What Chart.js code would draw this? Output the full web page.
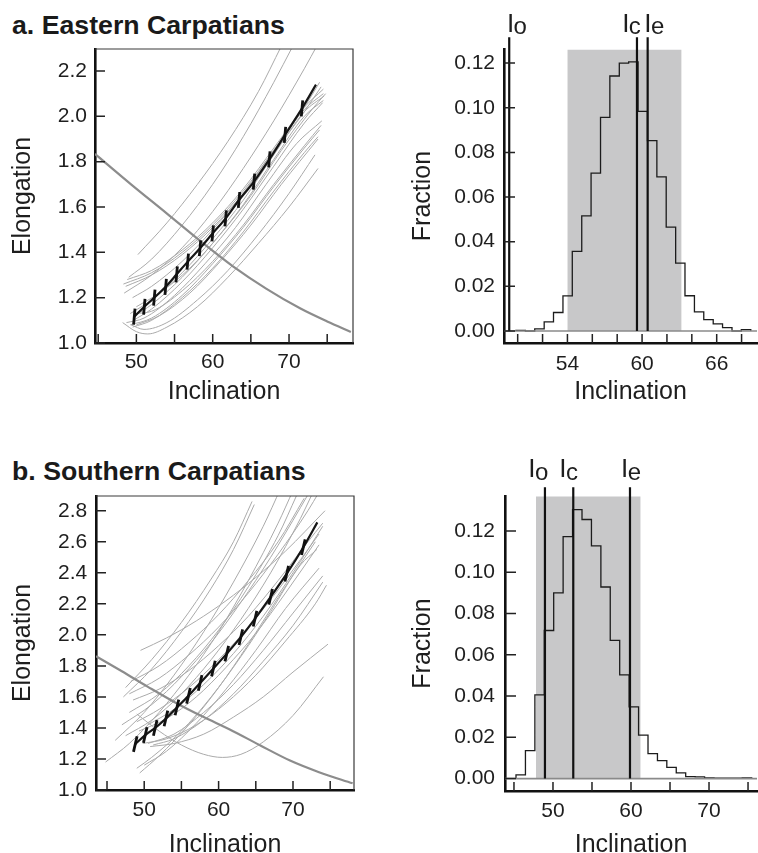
<!DOCTYPE html>
<html>
<head>
<meta charset="utf-8">
<title>E/I correction - Carpatians</title>
<script src="https://cdn.jsdelivr.net/npm/chart.js@4.4.1/dist/chart.umd.min.js"></script>
<style>
  html, body { margin: 0; padding: 0; background: #fff; overflow: hidden; }
  #page { position: relative; width: 758px; height: 853px; overflow: hidden;
          font-family: "Liberation Sans", Arial, Helvetica, sans-serif; }
  #page canvas { position: absolute; }
  .panel-title { position: absolute; left: 12px; font-weight: bold; font-size: 26.7px;
                 line-height: 1; color: #1a1a1a; white-space: nowrap; }
</style>
</head>
<body>
<div id="page">
  <div class="panel-title" style="top:12.4px">a. Eastern Carpatians</div>
  <div class="panel-title" style="top:458.4px">b. Southern Carpatians</div>
  <canvas id="eiA"   width="379" height="420" style="left:0;top:0"></canvas>
  <canvas id="histA" width="378" height="420" style="left:380px;top:0"></canvas>
  <canvas id="eiB"   width="379" height="445" style="left:0;top:420px"></canvas>
  <canvas id="histB" width="378" height="445" style="left:380px;top:420px"></canvas>
</div>

<script>
// ==========================================
// DATA
// ==========================================

// ---- a. Eastern Carpatians : elongation / inclination ----
const incTicksA   = [45, 50, 55, 60, 65, 70, 75];
const incLabelsA  = [50, 60, 70];
const elongTicksA = [1.0, 1.2, 1.4, 1.6, 1.8, 2.0, 2.2];

// mean E/I path, an error tick sits on every point except the last one
const eiPathA = [
  [49.73, 1.116], [51.04, 1.160], [52.35, 1.200], [53.84, 1.248], [55.28, 1.303],
  [56.73, 1.359], [58.34, 1.418], [60.00, 1.484], [61.70, 1.550], [63.45, 1.631],
  [65.41, 1.712], [67.42, 1.810], [69.47, 1.918], [71.70, 2.035], [73.53, 2.140]
];

// TK03.GAD model curve
const tk03A = [
  [44.58, 1.834], [49.3, 1.700], [53.97, 1.572], [58.3, 1.452], [62.7, 1.337],
  [67.0, 1.240], [71.44, 1.153], [75.0, 1.095], [78.1, 1.049]
];

// bootstrapped E/I paths
const bootA = [
  [[50.2, 1.39], [54, 1.53], [58, 1.70], [62, 1.89], [66, 2.11], [69, 2.31]],
  [[49.0, 1.29], [52, 1.37], [56, 1.52], [60, 1.70], [64, 1.91], [68, 2.15], [70.5, 2.31]],
  [[48.4, 1.22], [52, 1.30], [56, 1.42], [60, 1.58], [64, 1.77], [68, 1.98], [72, 2.21], [73.8, 2.32]],
  [[48.3, 1.26], [52, 1.31], [56, 1.40], [60, 1.52], [64, 1.67], [68, 1.85], [72, 2.04], [74.0, 2.15]],
  [[48.8, 1.28], [52, 1.32], [56, 1.41], [60, 1.53], [64, 1.68], [68, 1.86], [72, 2.04], [74.5, 2.12]],
  [[49.5, 1.20], [52, 1.25], [56, 1.36], [60, 1.50], [64, 1.66], [68, 1.85], [72, 2.03], [74.5, 2.10]],
  [[49.2, 1.13], [52, 1.19], [56, 1.31], [60, 1.46], [64, 1.63], [68, 1.83], [72, 2.02], [74.6, 2.09]],
  [[49.8, 1.12], [52, 1.17], [56, 1.29], [60, 1.44], [64, 1.61], [68, 1.81], [72, 2.00], [74.5, 2.07]],
  [[49.6, 1.10], [52, 1.15], [56, 1.27], [60, 1.42], [64, 1.59], [68, 1.78], [72, 1.97], [74.4, 2.06]],
  [[48.7, 1.09], [51, 1.11], [55, 1.21], [59, 1.35], [63, 1.51], [67, 1.70], [71, 1.88], [74.3, 1.98]],
  [[49.2, 1.08], [52, 1.11], [56, 1.21], [60, 1.35], [64, 1.51], [68, 1.69], [72, 1.86], [74.0, 1.94]],
  [[49.5, 1.07], [52, 1.10], [56, 1.20], [60, 1.33], [64, 1.49], [68, 1.67], [72, 1.84], [73.8, 1.91]],
  [[50.0, 1.08], [53, 1.12], [57, 1.22], [61, 1.36], [65, 1.52], [69, 1.70], [73.8, 1.90]],
  [[48.2, 1.09], [50, 1.05], [51.5, 1.04], [54, 1.07], [58, 1.16], [62, 1.29], [66, 1.44], [70, 1.60], [73.8, 1.77]],
  [[49.3, 1.08], [51, 1.06], [54, 1.09], [58, 1.19], [62, 1.32], [66, 1.48], [70, 1.66], [73.4, 1.83]],
  [[49.8, 1.13], [52, 1.14], [56, 1.23], [60, 1.36], [64, 1.52], [68, 1.70], [72, 1.87], [74.2, 1.96]],
  [[48.6, 1.25], [52, 1.30], [56, 1.39], [60, 1.51], [64, 1.66], [68, 1.84], [72, 2.02], [74.2, 2.13]],
  [[50.0, 1.16], [53, 1.22], [57, 1.33], [61, 1.48], [65, 1.65], [69, 1.85], [73, 2.03], [74.8, 2.10]]
];

// ---- a. histogram of corrected inclinations ----
const histTicksA  = [50, 52, 54, 56, 58, 60, 62, 64, 66, 68];
const histLabelsA = [54, 60, 66];
const fracTicks   = [0, 0.02, 0.04, 0.06, 0.08, 0.10, 0.12];
const histEdgesA  = [
  49.86, 50.62, 51.37, 52.13, 52.88, 53.64, 54.39, 55.15, 55.90, 56.66, 57.41, 58.17, 58.92,
  59.68, 60.43, 61.19, 61.94, 62.70, 63.45, 64.21, 64.96, 65.72, 66.47, 67.23, 67.98, 68.74
];
const histFracA = [
  0.0003, 0.0000, 0.0010, 0.0041, 0.0083, 0.0157, 0.0357, 0.0516, 0.0707, 0.0957, 0.1142, 0.1200,
  0.1205, 0.0984, 0.0853, 0.0690, 0.0465, 0.0304, 0.0158, 0.0086, 0.0051, 0.0032, 0.0015, 0.0000, 0.0006
];
const bandA  = [53.99, 63.18];           // 95% bootstrap interval
const marksA = [49.32, 59.59, 60.45];    // I_o, I_c, I_e
const markNames = ['o', 'c', 'e'];

// ---- b. Southern Carpatians : elongation / inclination ----
const incTicksB   = [45, 50, 55, 60, 65, 70, 75];
const incLabelsB  = [50, 60, 70];
const elongTicksB = [1.0, 1.2, 1.4, 1.6, 1.8, 2.0, 2.2, 2.4, 2.6, 2.8];

const eiPathB = [
  [48.80, 1.296], [50.14, 1.354], [51.48, 1.400], [52.92, 1.461], [54.40, 1.532],
  [55.95, 1.607], [57.52, 1.690], [59.30, 1.783], [61.10, 1.879], [62.99, 1.985],
  [64.90, 2.104], [67.00, 2.245], [69.16, 2.394], [71.39, 2.565], [73.27, 2.725]
];

const tk03B = [
  [43.52, 1.862], [47.0, 1.765], [50.5, 1.665], [54.4, 1.558], [58.0, 1.470],
  [61.5, 1.390], [65.5, 1.290], [69.6, 1.190], [73.5, 1.115], [78.02, 1.043]
];

const bootB = [
  [[49.5, 1.90], [53, 1.98], [57, 2.09], [61, 2.22], [65, 2.37], [69, 2.54], [74.3, 2.80]],
  [[47.5, 1.66], [51, 1.84], [55, 2.08], [59, 2.36], [62, 2.60], [64.5, 2.86]],
  [[47.2, 1.60], [51, 1.78], [55, 2.02], [59, 2.30], [62, 2.55], [64.8, 2.84]],
  [[46.1, 1.32], [50, 1.50], [54, 1.74], [58, 2.02], [62, 2.34], [66, 2.70], [68.4, 2.95]],
  [[44.8, 1.18], [48, 1.30], [52, 1.50], [56, 1.74], [60, 2.02], [64, 2.35], [68, 2.72], [70, 2.93]],
  [[48.2, 1.70], [52, 1.80], [56, 1.95], [60, 2.13], [64, 2.35], [68, 2.60], [71.5, 2.88]],
  [[48.0, 1.62], [52, 1.72], [56, 1.87], [60, 2.05], [64, 2.27], [68, 2.52], [72, 2.80], [73.5, 2.92]],
  [[47.0, 1.42], [51, 1.55], [55, 1.73], [59, 1.95], [63, 2.21], [67, 2.50], [71, 2.82], [72.2, 2.92]],
  [[48.5, 1.58], [52, 1.65], [56, 1.77], [60, 1.93], [64, 2.12], [68, 2.35], [72, 2.60], [74, 2.72]],
  [[49.0, 1.44], [52, 1.52], [56, 1.66], [60, 1.84], [64, 2.05], [68, 2.29], [72, 2.55], [73.5, 2.65]],
  [[49.3, 1.38], [53, 1.46], [57, 1.60], [61, 1.79], [65, 2.01], [69, 2.27], [73.5, 2.58]],
  [[49.4, 1.11], [52, 1.22], [56, 1.42], [60, 1.66], [64, 1.94], [68, 2.24], [73, 2.60]],
  [[49.0, 1.14], [51, 1.21], [55, 1.38], [59, 1.60], [63, 1.86], [67, 2.15], [71, 2.45], [73.2, 2.55]],
  [[50.0, 1.16], [53, 1.25], [57, 1.43], [61, 1.65], [65, 1.90], [69, 2.17], [73.5, 2.43]],
  [[50.5, 1.30], [54, 1.36], [58, 1.50], [62, 1.68], [66, 1.90], [70, 2.14], [74, 2.38]],
  [[51.2, 1.29], [54, 1.33], [58, 1.45], [62, 1.62], [66, 1.83], [70, 2.06], [74, 2.34]],
  [[49.0, 1.49], [52, 1.38], [55, 1.29], [58, 1.23], [60.5, 1.21], [63, 1.23], [66, 1.31], [70, 1.48], [74.1, 1.73]],
  [[50.8, 1.28], [54, 1.30], [58, 1.36], [62, 1.47], [66, 1.60], [70, 1.76], [74.7, 1.94]],
  [[49.8, 1.30], [53, 1.33], [57, 1.42], [61, 1.56], [65, 1.74], [69, 1.96], [73, 2.20], [74.5, 2.32]],
  [[48.0, 1.50], [52, 1.62], [56, 1.80], [60, 2.03], [64, 2.31], [68, 2.64], [70.5, 2.90]],
  [[47.5, 1.35], [51, 1.45], [55, 1.62], [59, 1.84], [63, 2.10], [67, 2.40], [71, 2.75], [72.5, 2.90]],
  [[50.5, 1.42], [54, 1.52], [58, 1.68], [62, 1.88], [66, 2.12], [70, 2.40], [74, 2.70]]
];

// ---- b. histogram ----
const histTicksB  = [45, 50, 55, 60, 65, 70, 75];
const histLabelsB = [50, 60, 70];
const histEdgesB  = [
  45.26, 46.47, 47.68, 48.89, 50.09, 51.30, 52.51, 53.72, 54.93, 56.14, 57.34, 58.55, 59.76,
  60.97, 62.18, 63.39, 64.59, 65.80, 67.01, 68.22, 69.43, 70.64, 71.84, 73.05, 74.26, 75.47
];
const histFracB = [
  0.0018, 0.0136, 0.0406, 0.0718, 0.0900, 0.1173, 0.1304, 0.1256, 0.1128, 0.0929, 0.0670, 0.0503,
  0.0348, 0.0211, 0.0121, 0.0087, 0.0055, 0.0028, 0.0010, 0.0008, 0.0004, 0.0002, 0.0002, 0.0002, 0.0003
];
const bandB  = [47.82, 61.24];
const marksB = [48.97, 52.60, 59.87];

// ==========================================
// RENDERING
// ==========================================
const FONT = '"Liberation Sans", Arial, Helvetica, sans-serif';
const INK = '#1e1e1e';
Chart.defaults.font.family = FONT;
Chart.defaults.color = INK;

const xy = pts => pts.map(([x, y]) => ({ x, y }));

// inward tick marks, thin top/right frame and the I_o / I_c / I_e labels
function decor(cfg) {
  return {
    id: 'decor',
    afterDraw(chart) {
      const { ctx, chartArea: a, scales: { x, y } } = chart;
      ctx.save();
      ctx.strokeStyle = '#222';
      ctx.lineWidth = 1.5;
      ctx.beginPath();
      x.ticks.forEach(t => {
        const px = x.getPixelForValue(t.value);
        ctx.moveTo(px, a.bottom);
        ctx.lineTo(px, a.bottom - cfg.xTick);
      });
      y.ticks.forEach(t => {
        const py = y.getPixelForValue(t.value);
        ctx.moveTo(a.left, py);
        ctx.lineTo(a.left + cfg.yTick, py);
      });
      ctx.stroke();

      if (cfg.frame) {
        ctx.strokeStyle = '#3a3a3a';
        ctx.lineWidth = 1.2;
        ctx.beginPath();
        ctx.moveTo(a.left, a.top);
        ctx.lineTo(a.right, a.top);
        ctx.lineTo(a.right, a.bottom);
        ctx.stroke();
      }

      if (cfg.marks) {
        const base = y.getPixelForValue(cfg.markTop) - cfg.labelGap;
        ctx.fillStyle = INK;
        ctx.textBaseline = 'alphabetic';
        cfg.marks.forEach((m, i) => {
          const cx = x.getPixelForValue(m) + cfg.labelDx[i];
          ctx.font = `26px ${FONT}`;
          ctx.textAlign = 'center';
          ctx.fillText('I', cx, base);
          ctx.font = `24px ${FONT}`;
          ctx.textAlign = 'left';
          ctx.fillText(markNames[i], cx + 3, base + 2.5);
        });
      }
      ctx.restore();
    }
  };
}

function axis(o) {
  return {
    type: 'linear', min: o.min, max: o.max,
    afterBuildTicks: s => { s.ticks = o.ticks.map(v => ({ value: v })); },
    afterFit: s => { if (s.isHorizontal()) s.height = o.size; else s.width = o.size; },
    ticks: { autoSkip: false, maxRotation: 0, padding: o.labelPad, color: INK,
             font: { size: 21 }, callback: o.label },
    grid: { display: true, drawOnChartArea: false, drawTicks: false },
    border: { display: true, width: 2.6, color: '#111' },
    title: { display: true, text: o.title, color: INK, font: { size: 25 }, padding: o.titlePad }
  };
}

function baseOptions(p) {
  return {
    responsive: false, animation: false, events: [], devicePixelRatio: 1,
    layout: { autoPadding: false, padding: p.pad },
    plugins: { legend: { display: false }, tooltip: { enabled: false } },
    scales: { x: axis(p.x), y: axis(p.y) }
  };
}

function eiChart(id, p) {
  const curve = (pts, color, width) => ({
    data: xy(pts), showLine: true, borderColor: color, borderWidth: width,
    pointRadius: 0, cubicInterpolationMode: 'monotone'
  });
  const datasets = [
    { data: xy(p.path.slice(0, -1)), showLine: false, pointStyle: 'line', pointRadius: 8,
      pointRotation: p.tickTilt, pointBorderWidth: 2.8, pointBorderColor: '#111' },
    curve(p.path, '#161616', 2.2),
    curve(p.tk03, '#8c8c8c', 2.2),
    ...p.boot.map(c => curve(c, '#aaaaaa', 1))
  ];
  new Chart(document.getElementById(id), {
    type: 'scatter', data: { datasets },
    options: baseOptions(p),
    plugins: [decor({ xTick: 9, yTick: 10, frame: true })]
  });
}

function histChart(id, p) {
  const last = p.edges.length - 1;
  const steps = [{ x: p.edges[0], y: 0 },
                 ...p.frac.map((f, i) => ({ x: p.edges[i], y: f })),
                 { x: p.edges[last], y: 0 }];
  const datasets = [
    ...p.marks.map(m => ({ data: [{ x: m, y: 0 }, { x: m, y: p.markTop }], showLine: true,
                           borderColor: '#111', borderWidth: 2.2, pointRadius: 0, clip: false })),
    { data: [{ x: p.x.min, y: 0 }, { x: p.x.max, y: 0 }], showLine: true,
      borderColor: '#8a8a8a', borderWidth: 1.6, pointRadius: 0 },
    { data: steps, showLine: true, stepped: true, borderColor: '#1c1c1c', borderWidth: 1.3, pointRadius: 0 },
    { data: [{ x: p.band[0], y: p.bandTop }, { x: p.band[1], y: p.bandTop }], showLine: true,
      borderWidth: 0, pointRadius: 0, fill: 'origin', backgroundColor: '#c8c8c9' }
  ];
  new Chart(document.getElementById(id), {
    type: 'scatter', data: { datasets },
    options: baseOptions(p),
    plugins: [decor({ xTick: 9, yTick: 11, marks: p.marks, markTop: p.markTop,
                      labelGap: p.labelGap, labelDx: p.labelDx })]
  });
}

const incLabel  = list => v => (list.includes(v) ? String(v) : '');
const fixed     = n => v => v.toFixed(n);

eiChart('eiA', {
  path: eiPathA, tk03: tk03A, boot: bootA, tickTilt: 95,
  pad: { top: 49, right: 26, left: 0, bottom: 0 },
  x: { min: 44.58, max: 78.38, ticks: incTicksA, label: incLabel(incLabelsA), size: 77,
       labelPad: 6.4, title: 'Inclination', titlePad: { top: 0, bottom: 13.3 } },
  y: { min: 1.0, max: 2.297, ticks: elongTicksA, label: fixed(1), size: 95,
       labelPad: 8, title: 'Elongation', titlePad: { top: 7.8, bottom: 0 } }
});

histChart('histA', {
  edges: histEdgesA, frac: histFracA, band: bandA, bandTop: 0.126,
  marks: marksA, markTop: 0.1316, labelGap: 5.5, labelDx: [1.4, -11.2, 0.3],
  pad: { top: 49, right: 1, left: 0, bottom: 0 },
  x: { min: 48.90, max: 69.24, ticks: histTicksA, label: incLabel(histLabelsA), size: 77,
       labelPad: 8.4, title: 'Inclination', titlePad: { top: 0, bottom: 12.5 } },
  y: { min: -0.00537, max: 0.1263, ticks: fracTicks, label: fixed(2), size: 124,
       labelPad: 9, title: 'Fraction', titlePad: { top: 28.3, bottom: 0 } }
});

eiChart('eiB', {
  path: eiPathB, tk03: tk03B, boot: bootB, tickTilt: 103,
  pad: { top: 76, right: 25, left: 0, bottom: 0 },
  x: { min: 43.52, max: 78.2, ticks: incTicksB, label: incLabel(incLabelsB), size: 75,
       labelPad: 7.4, title: 'Inclination', titlePad: { top: 0, bottom: 5 } },
  y: { min: 1.0, max: 2.895, ticks: elongTicksB, label: fixed(1), size: 96,
       labelPad: 8.7, title: 'Elongation', titlePad: { top: 7.8, bottom: 0 } }
});

histChart('histB', {
  edges: histEdgesB, frac: histFracB, band: bandB, bandTop: 0.1368,
  marks: marksB, markTop: 0.1413, labelGap: 9.8, labelDx: [-13, -10.3, -5.3],
  pad: { top: 76, right: 1, left: 0, bottom: 0 },
  x: { min: 43.85, max: 76.15, ticks: histTicksB, label: incLabel(histLabelsB), size: 74,
       labelPad: 7.4, title: 'Inclination', titlePad: { top: 0, bottom: 5 } },
  y: { min: -0.006, max: 0.137, ticks: fracTicks, label: fixed(2), size: 125,
       labelPad: 10, title: 'Fraction', titlePad: { top: 28.3, bottom: 0 } }
});
</script>
</body>
</html>
